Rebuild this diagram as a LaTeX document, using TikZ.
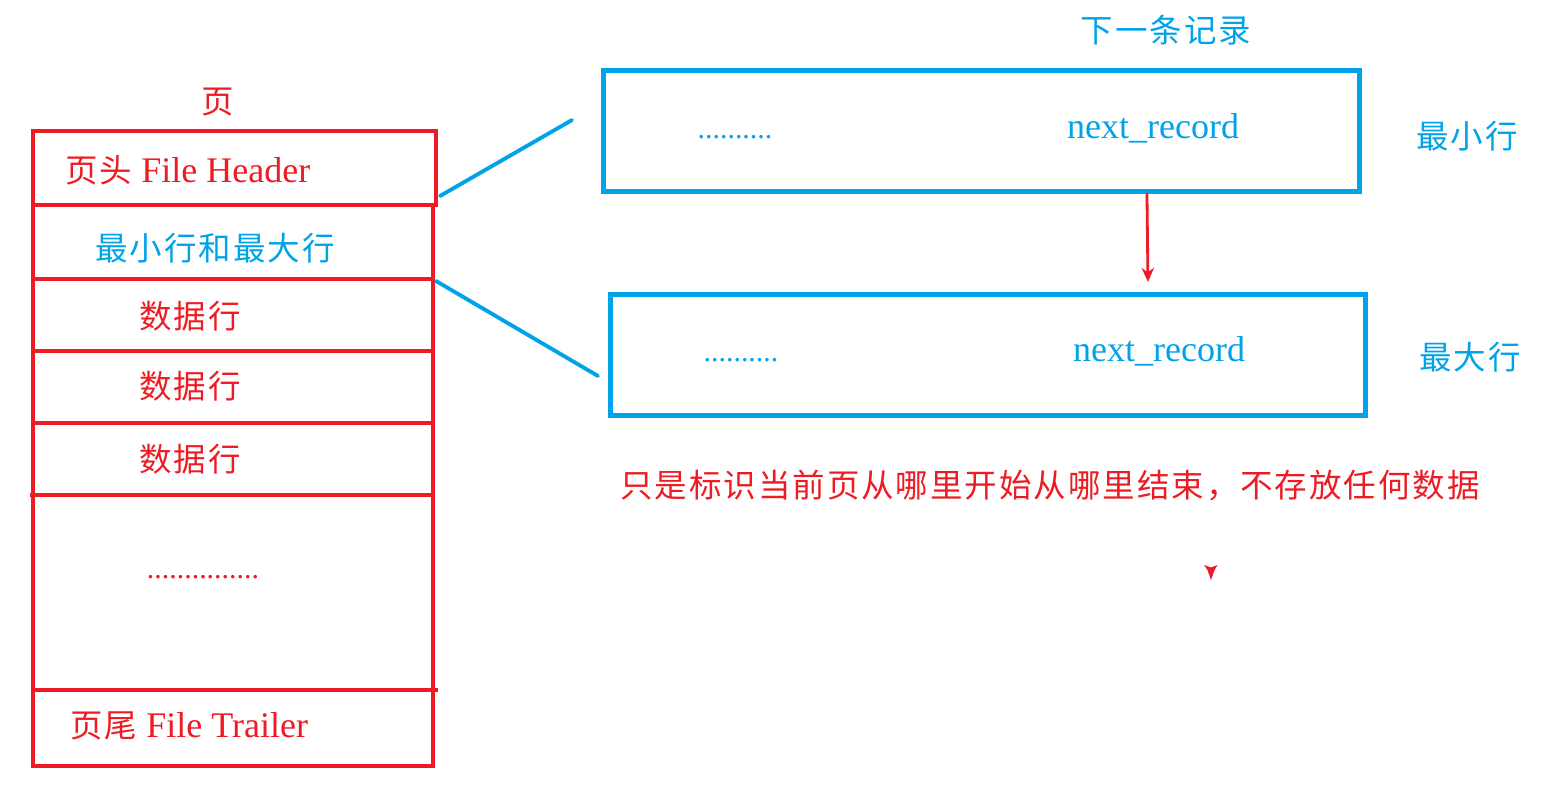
\documentclass[tikz,border=0pt]{standalone}
\usepackage{fontspec}
\setmainfont{Liberation Serif}
\newfontfamily\cjkfam[LetterSpace=6]{Noto Sans CJK SC}
\newcommand\cjktxt[1]{{\cjkfam\fontsize{18.5}{21}\selectfont #1}}
\usetikzlibrary{arrows.meta}
\definecolor{pred}{HTML}{ED1C24}
\definecolor{pblue}{HTML}{00A2E8}
\begin{document}
\begin{tikzpicture}[x=0.02cm,y=-0.02cm,
  redline/.style={draw=pred, line width=2.8pt},
  blueline/.style={draw=pblue, line width=2.2pt, line cap=round},
  bluebox/.style={draw=pblue, line width=2.9pt, inner sep=0pt, minimum height=2.42cm},
  cjkred/.style={text=pred, inner sep=0pt, font=\cjkfam\fontsize{18.5}{21}\selectfont},
  cjkblue/.style={text=pblue, inner sep=0pt, font=\cjkfam\fontsize{18.5}{21}\selectfont},
  latred/.style={text=pred, inner sep=0pt, anchor=base west, font=\fontsize{20.5}{24}\selectfont},
  latblue/.style={text=pblue, inner sep=0pt, anchor=base, font=\fontsize{20.5}{24}\selectfont},
  dotsty/.style={inner sep=0pt, anchor=base, font=\fontsize{17}{20}\selectfont},
  nextarrow/.style={draw=pred, line width=1.6pt, line cap=round, -{Stealth[length=8pt, width=7pt, inset=2.5pt]}}
]
\useasboundingbox (0,0) rectangle (1559,792);

% page structure
\draw[redline] (33,131) rectangle (436,205);
\draw[redline] (33,205) rectangle (433,766);
\draw[redline] (33,279) -- (433,279);
\draw[redline] (33,351) -- (433,351);
\draw[redline] (33,423) -- (433,423);
\draw[redline] (30,495) -- (433,495);
\draw[redline] (35,690) -- (438,690);

\node[cjkred] (pagetitle) at (218,102) {页};
\node[latred] (hdrtxt) at (65,182) {\cjktxt{页头} File Header};
\node[cjkblue] (minmaxtxt) at (215,248) {最小行和最大行};
\node[cjkred] (data1) at (190,316) {数据行};
\node[cjkred] (data2) at (190,386) {数据行};
\node[cjkred] (data3) at (190,459) {数据行};
\node[dotsty, text=pred] (reddots) at (203,578) {...............};
\node[latred] (trltxt) at (70,737) {\cjktxt{页尾} File Trailer};

% blue connectors
\coordinate (hdrA) at (440,196);
\coordinate (hdrB) at (572,120);
\coordinate (mmA) at (436,281);
\coordinate (mmB) at (598,376);
\draw[blueline] (hdrA) -- (hdrB);
\draw[blueline] (mmA) -- (mmB);

% records
\node[bluebox, minimum width=15.12cm] (minrow) at (981.5,131) {};
\node[bluebox, minimum width=15.10cm] (maxrow) at (988,355) {};

\node[cjkblue] (nexttitle) at (1166,30) {下一条记录};
\node[dotsty, text=pblue] (dotsA) at (735,138) {..........};
\node[latblue] (nextA) at (1153,138) {next\_record};
\node[cjkblue] (minlbl) at (1467,136) {最小行};
\node[dotsty, text=pblue] (dotsB) at (741,361) {..........};
\node[latblue] (nextB) at (1159,361) {next\_record};
\node[cjkblue] (maxlbl) at (1470,357) {最大行};

\draw[nextarrow] ([xshift=3.31cm]minrow.south) -- ([xshift=3.2cm,yshift=0.2cm]maxrow.north);

\node[cjkred, anchor=west] (note) at (620,485) {只是标识当前页从哪里开始从哪里结束，不存放任何数据};

% stray arrow head
\fill[pred] (1204,565) -- (1211,567.5) -- (1217.5,565) -- (1214.5,570) -- (1211,580) -- (1207.5,570) -- cycle;
\end{tikzpicture}
\end{document}
